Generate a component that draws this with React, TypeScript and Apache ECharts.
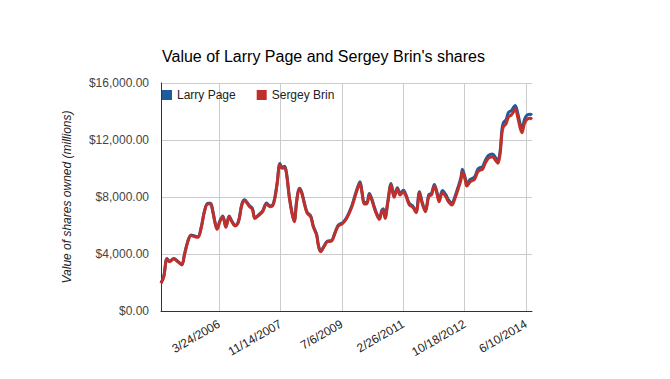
import React, { useEffect, useRef } from "react";
import * as echarts from "echarts";

const dates: string[] = [
  "2004-09-02", "2004-09-29", "2004-10-31", "2004-11-24", "2005-01-05", "2005-02-13", "2005-03-24", "2005-04-19",
  "2005-05-22", "2005-06-23", "2005-07-26", "2005-08-28", "2005-09-29", "2005-11-01", "2005-12-03", "2005-12-30",
  "2006-01-21", "2006-02-13", "2006-03-04", "2006-03-31", "2006-04-29", "2006-05-29", "2006-06-30", "2006-07-26",
  "2006-08-28", "2006-09-30", "2006-11-01", "2006-11-28", "2006-12-23", "2007-01-16", "2007-02-12", "2007-03-08",
  "2007-04-10", "2007-05-23", "2007-07-01", "2007-08-02", "2007-08-29", "2007-09-20", "2007-10-13", "2007-11-08",
  "2007-11-30", "2007-12-24", "2008-01-13", "2008-02-07", "2008-03-05", "2008-03-27", "2008-04-20", "2008-05-15",
  "2008-06-07", "2008-07-03", "2008-08-01", "2008-09-04", "2008-09-29", "2008-11-01", "2008-11-17", "2008-12-10",
  "2009-01-12", "2009-02-13", "2009-03-28", "2009-04-29", "2009-05-31", "2009-07-14", "2009-08-22", "2009-10-10",
  "2009-11-11", "2009-12-08", "2009-12-30", "2010-01-19", "2010-02-10", "2010-03-06", "2010-03-31", "2010-04-24",
  "2010-05-19", "2010-06-12", "2010-07-07", "2010-07-31", "2010-08-15", "2010-09-01", "2010-09-27", "2010-10-30",
  "2010-11-28", "2010-12-30", "2011-01-26", "2011-02-27", "2011-03-26", "2011-04-27", "2011-05-30", "2011-07-01",
  "2011-08-03", "2011-08-29", "2011-09-30", "2011-11-03", "2011-11-28", "2011-12-27", "2012-01-20", "2012-02-11",
  "2012-03-15", "2012-04-17", "2012-05-12", "2012-06-15", "2012-07-10", "2012-08-12", "2012-09-11", "2012-09-26",
  "2012-10-23", "2012-11-08", "2012-12-11", "2013-01-22", "2013-02-24", "2013-03-19", "2013-04-10", "2013-05-07",
  "2013-06-08", "2013-07-17", "2013-08-13", "2013-09-08", "2013-09-30", "2013-10-17", "2013-11-01", "2013-11-25",
  "2013-12-21", "2014-01-16", "2014-02-08", "2014-02-24", "2014-03-23", "2014-04-14", "2014-04-30", "2014-05-26",
  "2014-06-19", "2014-07-21", "2014-08-07",
];

const larryPage: number[] = [
  1955, 2430, 3680, 3490, 3680, 3490, 3255, 3960,
  4900, 5335, 5260, 5210, 5845, 7025, 7570, 7570,
  7025, 6200, 5775, 6320, 6675, 5915, 6675, 6320,
  6010, 6320, 7500, 7805, 7620, 7380, 7210, 6555,
  6725, 7030, 7575, 7385, 7435, 7980, 9040, 10345,
  10100, 10150, 9625, 8090, 6920, 6325, 7740, 8615,
  8375, 7625, 6920, 6680, 5970, 5375, 4670, 4195,
  4550, 4900, 4955, 5500, 6015, 6210, 6565, 7375,
  8125, 8720, 9075, 8370, 7610, 7610, 8245, 7890,
  7305, 6830, 6515, 7060, 7180, 6585, 7660, 8955,
  8085, 8650, 8245, 8480, 8125, 7535, 7375, 6990,
  8370, 7660, 7060, 8175, 8245, 8885, 8370, 7810,
  8450, 8165, 7810, 7575, 7930, 8645, 9355, 9955,
  9355, 8930, 9235, 9405, 9955, 10070, 10120, 10555,
  10915, 11025, 10790, 10555, 11270, 12745, 13225, 13410,
  13940, 14055, 14300, 14420, 13815, 13100, 12785, 13460,
  13745, 13815, 13745,
];

const sergeyBrin: number[] = [
  1940, 2410, 3650, 3460, 3650, 3460, 3230, 3930,
  4860, 5290, 5220, 5170, 5800, 6970, 7510, 7510,
  6970, 6150, 5730, 6270, 6620, 5870, 6620, 6270,
  5960, 6270, 7440, 7740, 7560, 7320, 7150, 6500,
  6670, 6970, 7510, 7320, 7370, 7910, 8960, 10250,
  10010, 10060, 9540, 8020, 6860, 6270, 7670, 8540,
  8300, 7560, 6860, 6620, 5920, 5330, 4630, 4160,
  4510, 4860, 4910, 5450, 5960, 6150, 6500, 7280,
  8020, 8610, 8960, 8260, 7510, 7510, 8140, 7790,
  7210, 6740, 6430, 6970, 7090, 6500, 7560, 8840,
  7980, 8540, 8140, 8370, 8020, 7440, 7280, 6900,
  8260, 7560, 6970, 8070, 8140, 8770, 8260, 7670,
  8300, 8020, 7670, 7440, 7790, 8490, 9190, 9780,
  9190, 8770, 9070, 9240, 9780, 9890, 9940, 10370,
  10720, 10830, 10600, 10370, 11070, 12470, 12940, 13120,
  13640, 13750, 13990, 14180, 13520, 12820, 12510, 13170,
  13450, 13520, 13450,
];

const xTickDates: string[] = ["2006-03-24", "2007-11-14", "2009-07-06", "2011-02-26", "2012-10-18", "2014-06-10"];
const yTicks: number[] = [0, 4000, 8000, 12000, 16000];

function toTs(s: string): number {
  const [y, m, d] = s.split("-").map(Number);
  return new Date(y, m - 1, d).getTime();
}

function fmtDate(v: number): string {
  const d = new Date(v);
  return `${d.getMonth() + 1}/${d.getDate()}/${d.getFullYear()}`;
}

function fmtMoney(v: number): string {
  return "$" + v.toLocaleString("en-US", { minimumFractionDigits: 2, maximumFractionDigits: 2 });
}

export default function App() {
  const ref = useRef<HTMLDivElement>(null);
  useEffect(() => {
    if (!ref.current) return;
    const chart = echarts.init(ref.current, null, { renderer: "svg" });
    const tickTs = xTickDates.map(toTs);
    const font = "Arial, 'Liberation Sans', sans-serif";
    chart.setOption({
      animation: false,
      backgroundColor: "#ffffff",
      textStyle: { fontFamily: font },
      title: {
        text: "Value of Larry Page and Sergey Brin's shares",
        left: 162,
        top: 48,
        padding: 0,
        textStyle: { fontSize: 16, fontWeight: "normal", color: "#000000", fontFamily: font },
      },
      legend: {
        left: 162,
        top: 89,
        padding: 0,
        itemWidth: 10,
        itemHeight: 10,
        itemGap: 21,
        icon: "rect",
        textStyle: { fontSize: 12, color: "#222222", fontFamily: font },
        data: ["Larry Page", "Sergey Brin"],
      },
      grid: { left: 161, top: 83, right: 138, bottom: 68, containLabel: false },
      xAxis: {
        type: "value",
        min: toTs(dates[0]),
        max: toTs(dates[dates.length - 1]),
        axisLine: { show: true, onZero: false, lineStyle: { color: "#333333", width: 1 } },
        axisTick: { show: false, customValues: tickTs },
        splitLine: { show: true, lineStyle: { color: "#cccccc", width: 1 } },
        axisLabel: {
          customValues: tickTs,
          rotate: 30,
          margin: 12,
          fontSize: 12,
          color: "#222222",
          fontFamily: font,
          showMinLabel: true,
          showMaxLabel: true,
          formatter: (v: number) => fmtDate(v),
        },
      },
      yAxis: {
        type: "value",
        min: yTicks[0],
        max: yTicks[yTicks.length - 1],
        interval: 4000,
        name: "Value of shares owned (millions)",
        nameLocation: "middle",
        nameGap: 88,
        nameTextStyle: { fontSize: 12, fontStyle: "italic", color: "#222222", fontFamily: font },
        axisLine: { show: true, lineStyle: { color: "#333333", width: 1 } },
        axisTick: { show: false },
        splitLine: { show: true, lineStyle: { color: "#cccccc", width: 1 } },
        axisLabel: { margin: 12, fontSize: 12, color: "#444444", fontFamily: font, formatter: (v: number) => fmtMoney(v) },
      },
      series: [
        {
          name: "Larry Page",
          type: "line",
          smooth: 0.35,
          symbol: "none",
          color: "#1f5c9c",
          lineStyle: { width: 3, color: "#1f5c9c" },
          data: dates.map((d, i) => [toTs(d), larryPage[i]]),
        },
        {
          name: "Sergey Brin",
          type: "line",
          smooth: 0.35,
          symbol: "none",
          color: "#c0302b",
          lineStyle: { width: 3, color: "#c0302b" },
          data: dates.map((d, i) => [toTs(d), sergeyBrin[i]]),
        },
      ],
    });
    return () => chart.dispose();
  }, []);
  return <div ref={ref} style={{ position: "fixed", left: 0, top: 0, width: 670, height: 379 }} />;
}
